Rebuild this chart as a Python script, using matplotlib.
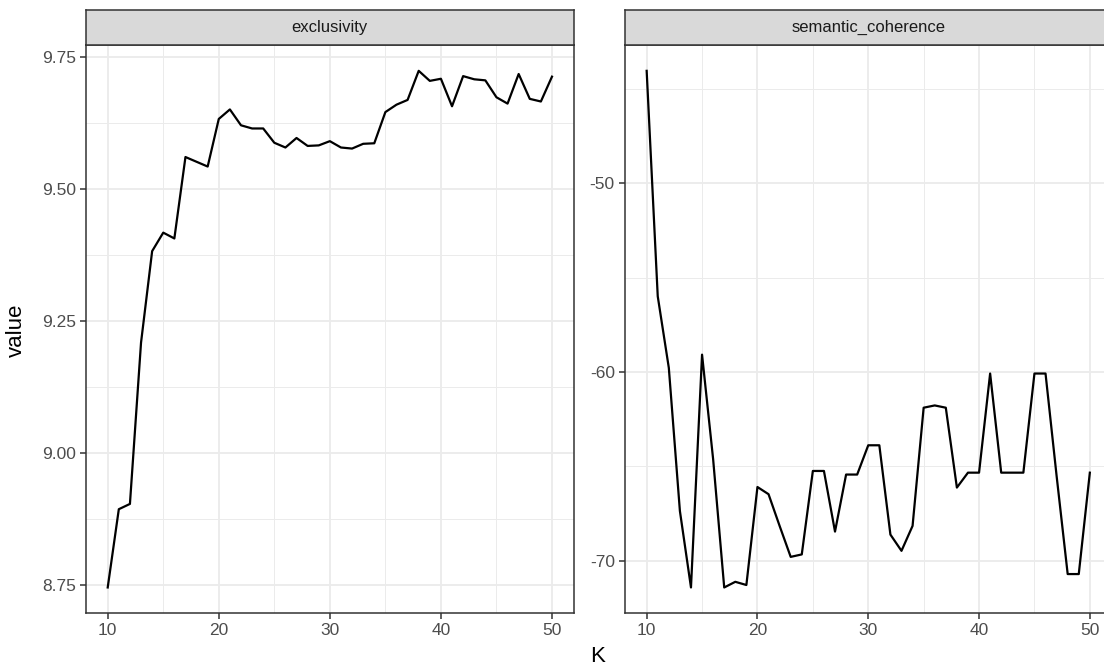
import numpy as np
import matplotlib
matplotlib.use("Agg")
import matplotlib.pyplot as plt
from matplotlib.ticker import MultipleLocator, FormatStrFormatter

plt.rcParams['font.family'] = ['Liberation Sans', 'DejaVu Sans']

# donnees
K = list(range(10, 51))
exclusivity = [8.746, 8.894, 8.904, 9.209, 9.382, 9.417, 9.406, 9.560, 9.551, 9.542,
               9.632, 9.650, 9.620, 9.614, 9.614, 9.587, 9.578, 9.596, 9.581, 9.582,
               9.590, 9.578, 9.576, 9.585, 9.586, 9.645, 9.659, 9.668, 9.723, 9.704,
               9.708, 9.656, 9.713, 9.707, 9.705, 9.673, 9.661, 9.717, 9.670, 9.665,
               9.712]
semantic_coherence = [-44.05, -55.99, -59.78, -67.36, -71.41, -59.08, -64.62, -71.41, -71.11, -71.28,
                      -66.09, -66.47, -68.15, -69.79, -69.66, -65.24, -65.24, -68.45, -65.43, -65.43,
                      -63.88, -63.88, -68.61, -69.47, -68.15, -61.89, -61.77, -61.89, -66.12, -65.33,
                      -65.33, -60.08, -65.33, -65.33, -65.33, -60.08, -60.08, -65.50, -70.70, -70.70,
                      -65.33]
panels = ["exclusivity", "semantic_coherence"]

W, H = 1104, 668
fig = plt.figure(figsize=(W / 100, H / 100), dpi=100)

def expand(v, f=0.05):
    lo, hi = min(v), max(v)
    r = hi - lo
    return lo - f * r, hi + f * r

border = '#333333'
grid_c = '#EBEBEB'
tick_c = '#4D4D4D'

# positions en pixels (x0, x1) ; le panneau de droite depasse le bord
boxes = [(85.5, 574.2), (624.5, 1112.0)]
y_top, y_bot = 45.0, 613.3
strip_top = 9.5

series = [exclusivity, semantic_coherence]
for i, (name, vals) in enumerate(zip(panels, series)):
    x0, x1 = boxes[i]
    ax = fig.add_axes([x0 / W, 1 - y_bot / H, (x1 - x0) / W, (y_bot - y_top) / H])
    ax.plot(K, vals, color='black', lw=1.6, zorder=3)
    ax.set_xlim(*expand(K))
    ax.set_ylim(*expand(vals))

    ax.xaxis.set_major_locator(MultipleLocator(10))
    ax.xaxis.set_minor_locator(MultipleLocator(5))
    if i == 0:
        ax.yaxis.set_major_locator(MultipleLocator(0.25))
        ax.yaxis.set_minor_locator(MultipleLocator(0.125))
        ax.yaxis.set_major_formatter(FormatStrFormatter('%.2f'))
    else:
        ax.yaxis.set_major_locator(MultipleLocator(10))
        ax.yaxis.set_minor_locator(MultipleLocator(5))
        ax.yaxis.set_major_formatter(FormatStrFormatter('%d'))

    ax.grid(which='major', color=grid_c, lw=1.3, zorder=0)
    ax.grid(which='minor', color=grid_c, lw=0.7, zorder=0)
    ax.set_axisbelow(True)
    ax.tick_params(which='major', length=4, width=1.1, color=border,
                   labelcolor=tick_c, labelsize=12.5, pad=3)
    ax.tick_params(which='minor', length=0)
    for s in ax.spines.values():
        s.set_color(border)
        s.set_linewidth(1.1)

    # bandeau du facet
    sax = fig.add_axes([x0 / W, 1 - y_top / H, (x1 - x0) / W, (y_top - strip_top) / H])
    sax.set_facecolor('#D9D9D9')
    sax.set_xticks([])
    sax.set_yticks([])
    for s in sax.spines.values():
        s.set_color(border)
        s.set_linewidth(1.1)
    sax.text(0.5, 0.5, name, transform=sax.transAxes, ha='center', va='center',
             fontsize=12, color='#1A1A1A')

fig.text(598 / W, 1 - 657 / H, "K", ha='center', va='center', fontsize=16, color='black')
fig.text(16.5 / W, 1 - 330 / H, "value", ha='center', va='center', rotation=90,
         fontsize=16, color='black')

fig.savefig("out.png", dpi=100, facecolor='white')
